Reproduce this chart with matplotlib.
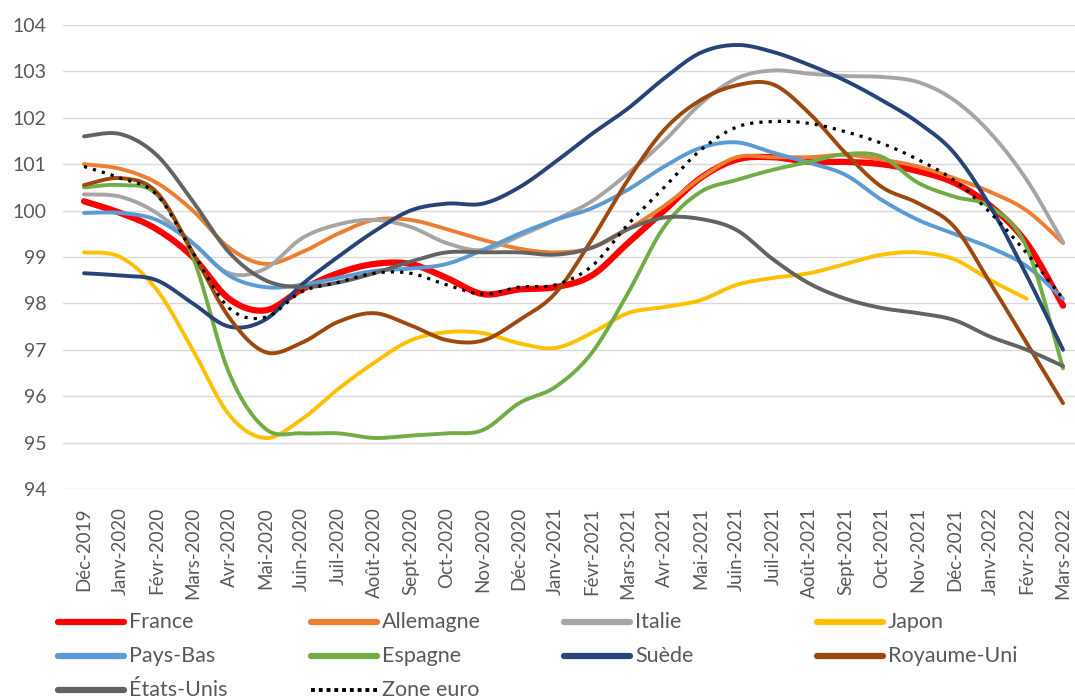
import numpy as np
import matplotlib
matplotlib.use("Agg")
import matplotlib.pyplot as plt
from matplotlib.lines import Line2D

months = ["Déc-2019", "Janv-2020", "Févr-2020", "Mars-2020", "Avr-2020", "Mai-2020",
          "Juin-2020", "Juil-2020", "Août-2020", "Sept-2020", "Oct-2020", "Nov-2020",
          "Déc-2020", "Janv-2021", "Févr-2021", "Mars-2021", "Avr-2021", "Mai-2021",
          "Juin-2021", "Juil-2021", "Août-2021", "Sept-2021", "Oct-2021", "Nov-2021",
          "Déc-2021", "Janv-2022", "Févr-2022", "Mars-2022"]

france = [100.2, 99.95, 99.6, 99.0, 98.1, 97.85, 98.3, 98.65, 98.85, 98.85, 98.55, 98.2,
          98.3, 98.35, 98.6, 99.3, 100.0, 100.7, 101.1, 101.15, 101.05, 101.05, 101.0,
          100.85, 100.6, 100.1, 99.3, 97.95]
allemagne = [101.0, 100.9, 100.6, 100.0, 99.2, 98.85, 99.1, 99.5, 99.8, 99.8, 99.6, 99.37,
             99.18, 99.1, 99.2, 99.6, 100.1, 100.7, 101.15, 101.15, 101.15, 101.2, 101.1,
             100.95, 100.7, 100.4, 100.0, 99.3]
italie = [100.35, 100.3, 99.95, 99.3, 98.65, 98.75, 99.4, 99.7, 99.8, 99.65, 99.3, 99.15,
          99.45, 99.8, 100.2, 100.8, 101.5, 102.3, 102.85, 103.02, 102.95, 102.9, 102.88,
          102.77, 102.38, 101.67, 100.66, 99.32]
japon = [99.1, 99.0, 98.3, 97.0, 95.6, 95.1, 95.5, 96.15, 96.72, 97.2, 97.38, 97.36,
         97.14, 97.04, 97.36, 97.79, 97.92, 98.07, 98.4, 98.55, 98.65, 98.85, 99.05, 99.1,
         98.95, 98.5, 98.1, np.nan]
pays_bas = [99.95, 99.95, 99.8, 99.3, 98.6, 98.35, 98.4, 98.55, 98.7, 98.75, 98.85, 99.15,
            99.5, 99.8, 100.05, 100.45, 100.95, 101.35, 101.47, 101.25, 101.03, 100.77,
            100.23, 99.8, 99.5, 99.2, 98.8, 98.1]
espagne = [100.5, 100.55, 100.35, 99.0, 96.5, 95.3, 95.2, 95.2, 95.1, 95.15, 95.2, 95.27,
           95.85, 96.2, 96.93, 98.22, 99.65, 100.4, 100.66, 100.88, 101.05, 101.22, 101.16,
           100.6, 100.3, 100.08, 99.2, 96.6]
suede = [98.65, 98.6, 98.5, 98.0, 97.5, 97.65, 98.4, 99.0, 99.55, 100.0, 100.15, 100.15,
         100.5, 101.05, 101.65, 102.2, 102.85, 103.4, 103.57, 103.42, 103.14, 102.8, 102.38,
         101.9, 101.24, 100.08, 98.6, 97.0]
royaume_uni = [100.55, 100.7, 100.4, 99.1, 97.7, 96.95, 97.15, 97.6, 97.79, 97.53, 97.21,
               97.2, 97.64, 98.22, 99.37, 100.66, 101.74, 102.38, 102.7, 102.72, 102.1,
               101.24, 100.51, 100.16, 99.65, 98.43, 97.14, 95.85]
etats_unis = [101.6, 101.65, 101.2, 100.2, 99.1, 98.5, 98.35, 98.45, 98.65, 98.9, 99.1, 99.1,
              99.1, 99.05, 99.2, 99.6, 99.85, 99.82, 99.58, 98.95, 98.43, 98.1, 97.9, 97.79,
              97.64, 97.28, 97.0, 96.65]
zone_euro = [100.95, 100.7, 100.35, 99.1, 97.9, 97.7, 98.25, 98.45, 98.65, 98.65, 98.4, 98.2,
             98.35, 98.4, 98.8, 99.7, 100.5, 101.3, 101.8, 101.92, 101.88, 101.7, 101.45,
             101.1, 100.65, 99.95, 99.08, 98.1]

series = [
    ("France", france, "#FF0000", 4.5, "-"),
    ("Allemagne", allemagne, "#ED7D31", 2.8, "-"),
    ("Italie", italie, "#A5A5A5", 2.8, "-"),
    ("Japon", japon, "#FFC000", 2.8, "-"),
    ("Pays-Bas", pays_bas, "#5B9BD5", 2.8, "-"),
    ("Espagne", espagne, "#70AD47", 2.8, "-"),
    ("Suède", suede, "#264478", 2.8, "-"),
    ("Royaume-Uni", royaume_uni, "#9E480E", 2.8, "-"),
    ("États-Unis", etats_unis, "#636363", 2.8, "-"),
    ("Zone euro", zone_euro, "#000000", 2.3, ":"),
]


def smooth(y, n=24):
    # bezier smoothing like excel "smoothed line"
    y = np.asarray(y, dtype=float)
    x = np.arange(len(y), dtype=float)
    ok = ~np.isnan(y)
    x, y = x[ok], y[ok]
    px = np.concatenate([[x[0]], x, [x[-1]]])
    py = np.concatenate([[y[0]], y, [y[-1]]])
    xs, ys = [], []
    t = np.linspace(0, 1, n)
    for i in range(1, len(px) - 2):
        p0 = np.array([px[i], py[i]])
        p3 = np.array([px[i + 1], py[i + 1]])
        c1 = p0 + (np.array([px[i + 1], py[i + 1]]) - np.array([px[i - 1], py[i - 1]])) / 6
        c2 = p3 - (np.array([px[i + 2], py[i + 2]]) - np.array([px[i], py[i]])) / 6
        b = ((1 - t) ** 3)[:, None] * p0 + (3 * (1 - t) ** 2 * t)[:, None] * c1 \
            + (3 * (1 - t) * t ** 2)[:, None] * c2 + (t ** 3)[:, None] * p3
        xs.append(b[:, 0])
        ys.append(b[:, 1])
    return np.concatenate(xs), np.concatenate(ys)


plt.rcParams["font.family"] = ["Lato", "DejaVu Sans"]

fig = plt.figure(figsize=(10.75, 7), dpi=100)
ax = fig.add_axes([63 / 1075, 1 - 489 / 700, 1 - 63 / 1075, 464 / 700])

for name, vals, color, lw, ls in series:
    sx, sy = smooth(vals)
    if ls == ":":
        ax.plot(sx, sy, color=color, lw=lw, linestyle=(0, (1, 1.9)), zorder=5)
    else:
        ax.plot(sx, sy, color=color, lw=lw, solid_capstyle="round", zorder=3)

ax.set_ylim(94, 104)
ax.set_xlim(-0.58, 27.33)
ax.set_yticks(range(94, 105))
ax.set_xticks(range(len(months)))
ax.set_xticklabels(months, rotation=90)
ax.grid(axis="y", color="#D9D9D9", lw=1)
ax.set_axisbelow(True)
for s in ax.spines.values():
    s.set_visible(False)
ax.tick_params(length=0, colors="#595959", labelsize=13.5)
ax.tick_params(axis="y", pad=12, labelsize=14)
ax.tick_params(axis="x", pad=13)

# legend, 4 columns, row by row
for i, (name, vals, color, lw, ls) in enumerate(series):
    r, c = divmod(i, 4)
    x0 = (58 + c * 253) / 1075
    yy = 1 - (622 + r * 34) / 700
    if ls == ":":
        fig.add_artist(Line2D([x0, x0 + 66 / 1075], [yy, yy], color=color, lw=2.8,
                              linestyle=(0, (1, 1))))
    else:
        fig.add_artist(Line2D([x0, x0 + 66 / 1075], [yy, yy], color=color, lw=4.5,
                              solid_capstyle="round"))
    fig.text(x0 + 71 / 1075, yy, name, va="center", ha="left", fontsize=15.5,
             color="#595959")

fig.savefig("out.png", dpi=100)
